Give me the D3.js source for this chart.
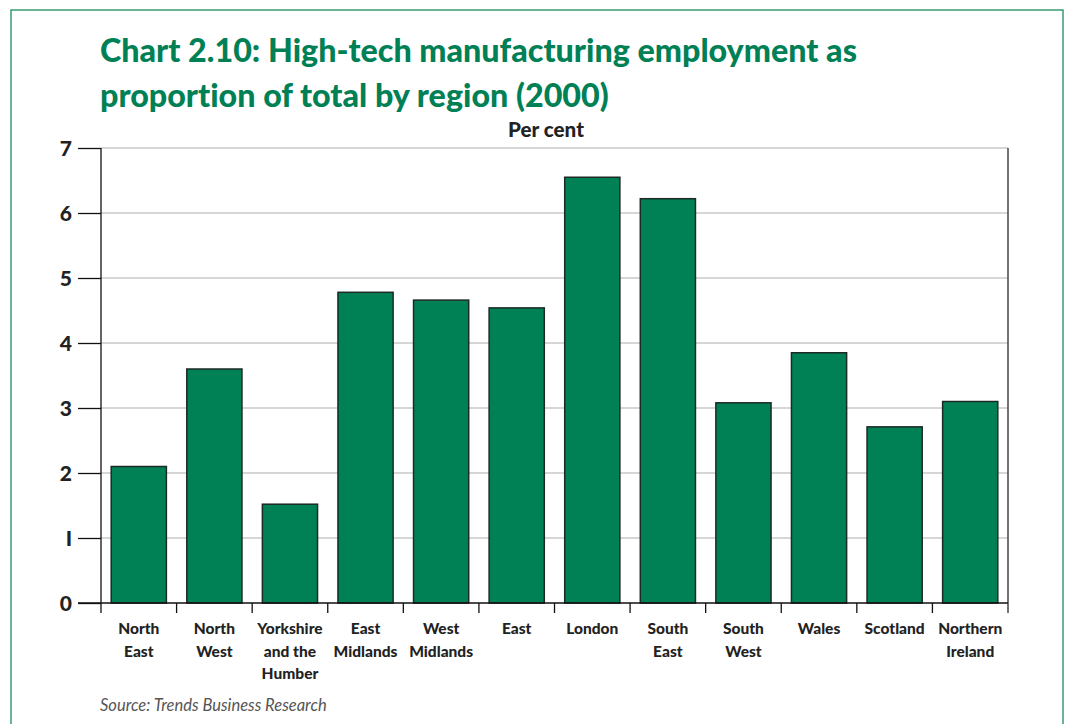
<!DOCTYPE html>
<html><head><meta charset="utf-8">
<script src="https://cdn.jsdelivr.net/npm/d3@7"></script>
<style>
body{margin:0;background:#fff;}
svg{display:block;}
text{font-variant-ligatures:none;}
</style></head>
<body>
<svg id="chart" width="1065" height="724"></svg>
<script>
const categories = [["North","East"],["North","West"],["Yorkshire","and the","Humber"],["East","Midlands"],["West","Midlands"],["East"],["London"],["South","East"],["South","West"],["Wales"],["Scotland"],["Northern","Ireland"]];
const values = [2.1, 3.6, 1.52, 4.78, 4.66, 4.54, 6.55, 6.22, 3.08, 3.85, 2.71, 3.1];
const yTicks = [0,1,2,3,4,5,6,7];
const yTickLabels = ["0","I","2","3","4","5","6","7"];
const titleLines = ["Chart 2.10: High-tech manufacturing employment as","proportion of total by region (2000)"];
const unitLabel = "Per cent";
const sourceText = "Source: Trends Business Research";

const svg = d3.select("#chart");
const green = "#008055";
const font = "Lato, 'Open Sans', sans-serif";

// frame
svg.append("rect").attr("x",11).attr("y",10).attr("width",1052).attr("height",730)
  .attr("fill","none").attr("stroke","#3a9a72").attr("stroke-width",1.5);

function fit(sel, target){
  const base = +sel.attr("font-size");
  const w = sel.node().getComputedTextLength();
  sel.attr("font-size", base*target/w);
}

// title
const t = svg.append("g");
const tl = titleLines.map((s,i)=> t.append("text").attr("x",100).attr("y",62+i*45)
  .attr("fill",green).attr("font-family",font).attr("font-weight",900)
  .attr("font-size",32).text(s));
const w0 = tl[0].node().getComputedTextLength();
const fs = 32*757/w0;
tl.forEach(n=>n.attr("font-size",fs));

const x0=101, x1=1008, yTop=148, yBot=603;
const x = d3.scaleBand().domain(categories.map((d,i)=>i)).range([x0,x1]).paddingInner(0.27).paddingOuter(0.135);
const y = d3.scaleLinear().domain([0,7]).range([yBot,yTop]);

// gridlines
svg.append("g").selectAll("line").data(yTicks.filter(d=>d>0)).join("line")
  .attr("x1",x0).attr("x2",x1).attr("y1",d=>y(d)).attr("y2",d=>y(d))
  .attr("stroke","#c8c8c8").attr("stroke-width",1.3);

// bars
svg.append("g").selectAll("rect").data(values).join("rect")
  .attr("x",(d,i)=>x(i)).attr("width",x.bandwidth())
  .attr("y",d=>y(d)).attr("height",d=>yBot-y(d))
  .attr("fill",green).attr("stroke","#1c2a24").attr("stroke-width",1.5);

// y axis
const yAxis = d3.axisLeft(y).tickValues(yTicks).tickSize(23).tickPadding(6)
  .tickFormat((d,i)=>yTickLabels[i]);
const ya = svg.append("g").attr("transform",`translate(${x0},0)`).call(yAxis);
ya.select(".domain").remove();
ya.selectAll(".tick line").attr("stroke","#111").attr("stroke-width",1.3);
ya.selectAll(".tick text").attr("font-family",font).attr("font-weight",900).attr("font-size",21).attr("fill","#222").attr("dy","0.35em");
svg.append("line").attr("x1",x0).attr("x2",x0).attr("y1",yTop).attr("y2",613).attr("stroke","#111").attr("stroke-width",1.3);
// right border
svg.append("line").attr("x1",x1).attr("x2",x1).attr("y1",yTop).attr("y2",613).attr("stroke","#444").attr("stroke-width",1.5);
// baseline
svg.append("line").attr("x1",78).attr("x2",x1).attr("y1",yBot).attr("y2",yBot).attr("stroke","#111").attr("stroke-width",1.3);
// category boundary ticks
const step = x.step();
svg.append("g").selectAll("line").data(d3.range(1,categories.length)).join("line")
  .attr("x1",d=>x0+d*step).attr("x2",d=>x0+d*step).attr("y1",yBot).attr("y2",613)
  .attr("stroke","#111").attr("stroke-width",1.3);

// x labels
const xl = svg.append("g").selectAll("text").data(categories).join("text")
  .attr("x",(d,i)=>x(i)+x.bandwidth()/2).attr("y",634)
  .attr("text-anchor","middle").attr("font-family",font).attr("font-weight",900)
  .attr("font-size",15.5).attr("fill","#222");
xl.each(function(d){
  const s = d3.select(this);
  d.forEach((line,j)=> s.append("tspan").attr("x",s.attr("x")).attr("dy", j===0?0:22.5).text(line));
});

// unit label
const ul = svg.append("text").attr("x",546).attr("y",137).attr("text-anchor","middle")
  .attr("font-family",font).attr("font-weight",900).attr("font-size",18).attr("fill","#222").text(unitLabel);
fit(ul, 76);

// source
const src = svg.append("text").attr("x",100).attr("y",711).attr("font-family",font).attr("font-style","italic")
  .attr("font-size",15).attr("fill","#555").text(sourceText);
fit(src, 227);
</script>
</body></html>
